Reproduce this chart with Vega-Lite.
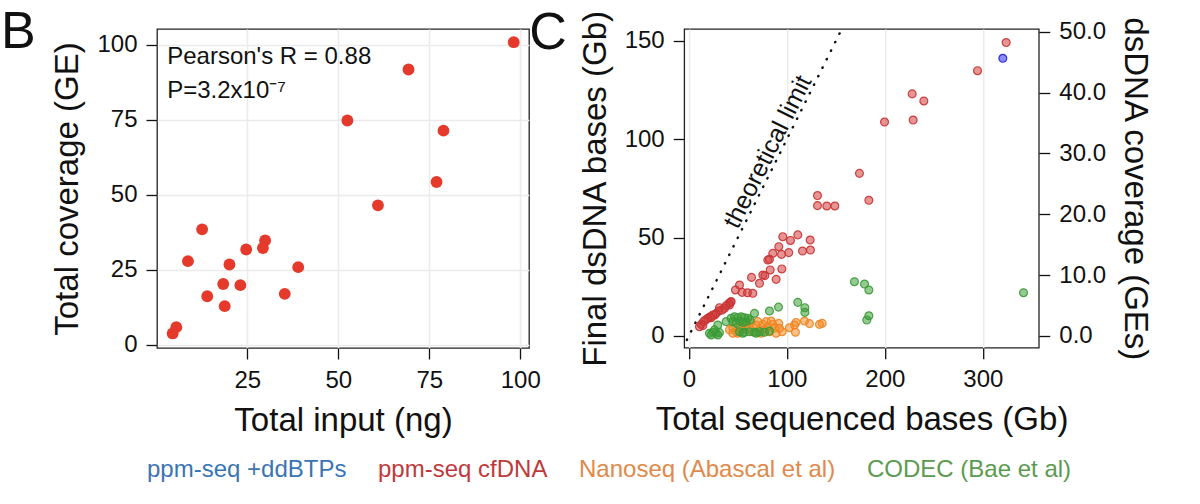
{
  "$schema": "https://vega.github.io/schema/vega-lite/v6.json",
  "background": "white",
  "padding": {"left": 0, "top": 4, "right": 5, "bottom": 5},
  "bounds": "flush",
  "spacing": 155.2,
  "datasets": {
    "input": [
      {"input": 98.2, "coverage": 100.8},
      {"input": 69.3, "coverage": 91.7},
      {"input": 52.5, "coverage": 74.7},
      {"input": 78.9, "coverage": 71.3},
      {"input": 77.0, "coverage": 54.2},
      {"input": 60.9, "coverage": 46.4},
      {"input": 12.6, "coverage": 38.4},
      {"input": 29.9, "coverage": 34.7},
      {"input": 29.3, "coverage": 32.2},
      {"input": 24.7, "coverage": 31.7},
      {"input": 8.7, "coverage": 27.8},
      {"input": 20.1, "coverage": 26.7},
      {"input": 39.0, "coverage": 25.8},
      {"input": 18.4, "coverage": 20.2},
      {"input": 23.1, "coverage": 19.8},
      {"input": 35.3, "coverage": 16.9},
      {"input": 14.0, "coverage": 16.1},
      {"input": 18.8, "coverage": 12.8},
      {"input": 5.5, "coverage": 5.8},
      {"input": 4.5, "coverage": 3.7}
    ],
    "limit": [
      {"total": -2, "final": -2},
      {"total": 155, "final": 155}
    ],
    "seq": [
      {"total": 323.8, "final": 149.2, "method": "ppm-seq cfDNA"},
      {"total": 294.6, "final": 134.9, "method": "ppm-seq cfDNA"},
      {"total": 227.9, "final": 123.1, "method": "ppm-seq cfDNA"},
      {"total": 239.8, "final": 119.5, "method": "ppm-seq cfDNA"},
      {"total": 199.7, "final": 108.8, "method": "ppm-seq cfDNA"},
      {"total": 228.9, "final": 109.8, "method": "ppm-seq cfDNA"},
      {"total": 174.1, "final": 82.7, "method": "ppm-seq cfDNA"},
      {"total": 183.7, "final": 69.0, "method": "ppm-seq cfDNA"},
      {"total": 131.3, "final": 71.4, "method": "ppm-seq cfDNA"},
      {"total": 131.3, "final": 66.3, "method": "ppm-seq cfDNA"},
      {"total": 140.8, "final": 66.1, "method": "ppm-seq cfDNA"},
      {"total": 149.0, "final": 66.1, "method": "ppm-seq cfDNA"},
      {"total": 95.9, "final": 50.5, "method": "ppm-seq cfDNA"},
      {"total": 103.7, "final": 48.6, "method": "ppm-seq cfDNA"},
      {"total": 111.2, "final": 51.4, "method": "ppm-seq cfDNA"},
      {"total": 123.8, "final": 48.8, "method": "ppm-seq cfDNA"},
      {"total": 91.8, "final": 45.4, "method": "ppm-seq cfDNA"},
      {"total": 85.7, "final": 42.0, "method": "ppm-seq cfDNA"},
      {"total": 94.6, "final": 41.5, "method": "ppm-seq cfDNA"},
      {"total": 102.0, "final": 42.4, "method": "ppm-seq cfDNA"},
      {"total": 116.0, "final": 43.2, "method": "ppm-seq cfDNA"},
      {"total": 124.1, "final": 43.7, "method": "ppm-seq cfDNA"},
      {"total": 80.6, "final": 38.6, "method": "ppm-seq cfDNA"},
      {"total": 82.3, "final": 39.0, "method": "ppm-seq cfDNA"},
      {"total": 94.9, "final": 34.1, "method": "ppm-seq cfDNA"},
      {"total": 83.0, "final": 33.6, "method": "ppm-seq cfDNA"},
      {"total": 75.5, "final": 31.0, "method": "ppm-seq cfDNA"},
      {"total": 77.6, "final": 30.7, "method": "ppm-seq cfDNA"},
      {"total": 89.1, "final": 28.8, "method": "ppm-seq cfDNA"},
      {"total": 64.0, "final": 29.8, "method": "ppm-seq cfDNA"},
      {"total": 72.1, "final": 26.8, "method": "ppm-seq cfDNA"},
      {"total": 51.7, "final": 25.9, "method": "ppm-seq cfDNA"},
      {"total": 47.6, "final": 23.4, "method": "ppm-seq cfDNA"},
      {"total": 54.4, "final": 22.2, "method": "ppm-seq cfDNA"},
      {"total": 59.9, "final": 22.0, "method": "ppm-seq cfDNA"},
      {"total": 65.3, "final": 21.7, "method": "ppm-seq cfDNA"},
      {"total": 43.2, "final": 17.5, "method": "ppm-seq cfDNA"},
      {"total": 42.6, "final": 17.1, "method": "ppm-seq cfDNA"},
      {"total": 40.8, "final": 16.6, "method": "ppm-seq cfDNA"},
      {"total": 41.5, "final": 15.8, "method": "ppm-seq cfDNA"},
      {"total": 38.1, "final": 15.4, "method": "ppm-seq cfDNA"},
      {"total": 36.4, "final": 14.1, "method": "ppm-seq cfDNA"},
      {"total": 31.3, "final": 14.4, "method": "ppm-seq cfDNA"},
      {"total": 34.0, "final": 13.2, "method": "ppm-seq cfDNA"},
      {"total": 30.6, "final": 12.7, "method": "ppm-seq cfDNA"},
      {"total": 27.9, "final": 11.5, "method": "ppm-seq cfDNA"},
      {"total": 26.5, "final": 10.7, "method": "ppm-seq cfDNA"},
      {"total": 24.5, "final": 10.7, "method": "ppm-seq cfDNA"},
      {"total": 21.8, "final": 9.8, "method": "ppm-seq cfDNA"},
      {"total": 22.8, "final": 9.3, "method": "ppm-seq cfDNA"},
      {"total": 19.4, "final": 9.0, "method": "ppm-seq cfDNA"},
      {"total": 17.0, "final": 8.1, "method": "ppm-seq cfDNA"},
      {"total": 15.0, "final": 7.3, "method": "ppm-seq cfDNA"},
      {"total": 12.6, "final": 5.9, "method": "ppm-seq cfDNA"},
      {"total": 14.3, "final": 5.3, "method": "ppm-seq cfDNA"},
      {"total": 10.9, "final": 4.7, "method": "ppm-seq cfDNA"},
      {"total": 136.1, "final": 6.4, "method": "Nanoseq (Abascal et al)"},
      {"total": 133.3, "final": 5.9, "method": "Nanoseq (Abascal et al)"},
      {"total": 123.1, "final": 6.3, "method": "Nanoseq (Abascal et al)"},
      {"total": 118.0, "final": 7.6, "method": "Nanoseq (Abascal et al)"},
      {"total": 109.5, "final": 6.9, "method": "Nanoseq (Abascal et al)"},
      {"total": 107.8, "final": 5.6, "method": "Nanoseq (Abascal et al)"},
      {"total": 102.7, "final": 4.2, "method": "Nanoseq (Abascal et al)"},
      {"total": 108.8, "final": 1.9, "method": "Nanoseq (Abascal et al)"},
      {"total": 95.2, "final": 2.2, "method": "Nanoseq (Abascal et al)"},
      {"total": 91.8, "final": 6.4, "method": "Nanoseq (Abascal et al)"},
      {"total": 41.5, "final": 3.1, "method": "Nanoseq (Abascal et al)"},
      {"total": 44.9, "final": 4.2, "method": "Nanoseq (Abascal et al)"},
      {"total": 48.3, "final": 2.2, "method": "Nanoseq (Abascal et al)"},
      {"total": 51.7, "final": 4.7, "method": "Nanoseq (Abascal et al)"},
      {"total": 55.1, "final": 3.1, "method": "Nanoseq (Abascal et al)"},
      {"total": 58.5, "final": 5.3, "method": "Nanoseq (Abascal et al)"},
      {"total": 61.9, "final": 3.9, "method": "Nanoseq (Abascal et al)"},
      {"total": 65.3, "final": 2.2, "method": "Nanoseq (Abascal et al)"},
      {"total": 68.7, "final": 5.6, "method": "Nanoseq (Abascal et al)"},
      {"total": 72.1, "final": 3.6, "method": "Nanoseq (Abascal et al)"},
      {"total": 75.5, "final": 5.9, "method": "Nanoseq (Abascal et al)"},
      {"total": 77.2, "final": 3.1, "method": "Nanoseq (Abascal et al)"},
      {"total": 80.6, "final": 4.7, "method": "Nanoseq (Abascal et al)"},
      {"total": 82.3, "final": 2.2, "method": "Nanoseq (Abascal et al)"},
      {"total": 85.7, "final": 5.9, "method": "Nanoseq (Abascal et al)"},
      {"total": 87.4, "final": 3.9, "method": "Nanoseq (Abascal et al)"},
      {"total": 89.1, "final": 1.4, "method": "Nanoseq (Abascal et al)"},
      {"total": 73.8, "final": 1.4, "method": "Nanoseq (Abascal et al)"},
      {"total": 50.0, "final": 1.4, "method": "Nanoseq (Abascal et al)"},
      {"total": 44.9, "final": 1.4, "method": "Nanoseq (Abascal et al)"},
      {"total": 56.8, "final": 6.4, "method": "Nanoseq (Abascal et al)"},
      {"total": 63.6, "final": 6.9, "method": "Nanoseq (Abascal et al)"},
      {"total": 70.4, "final": 7.3, "method": "Nanoseq (Abascal et al)"},
      {"total": 78.9, "final": 7.3, "method": "Nanoseq (Abascal et al)"},
      {"total": 84.0, "final": 7.6, "method": "Nanoseq (Abascal et al)"},
      {"total": 92.5, "final": 3.9, "method": "Nanoseq (Abascal et al)"},
      {"total": 341.5, "final": 22.0, "method": "CODEC (Bae et al)"},
      {"total": 169.0, "final": 27.6, "method": "CODEC (Bae et al)"},
      {"total": 179.3, "final": 26.4, "method": "CODEC (Bae et al)"},
      {"total": 183.7, "final": 23.4, "method": "CODEC (Bae et al)"},
      {"total": 183.7, "final": 10.3, "method": "CODEC (Bae et al)"},
      {"total": 181.6, "final": 8.1, "method": "CODEC (Bae et al)"},
      {"total": 111.2, "final": 17.1, "method": "CODEC (Bae et al)"},
      {"total": 118.4, "final": 14.4, "method": "CODEC (Bae et al)"},
      {"total": 118.4, "final": 12.0, "method": "CODEC (Bae et al)"},
      {"total": 91.5, "final": 14.7, "method": "CODEC (Bae et al)"},
      {"total": 82.3, "final": 12.7, "method": "CODEC (Bae et al)"},
      {"total": 67.0, "final": 11.5, "method": "CODEC (Bae et al)"},
      {"total": 29.6, "final": 5.6, "method": "CODEC (Bae et al)"},
      {"total": 38.1, "final": 7.3, "method": "CODEC (Bae et al)"},
      {"total": 43.2, "final": 9.0, "method": "CODEC (Bae et al)"},
      {"total": 46.6, "final": 9.8, "method": "CODEC (Bae et al)"},
      {"total": 50.0, "final": 9.3, "method": "CODEC (Bae et al)"},
      {"total": 53.4, "final": 9.8, "method": "CODEC (Bae et al)"},
      {"total": 56.8, "final": 9.3, "method": "CODEC (Bae et al)"},
      {"total": 60.2, "final": 9.0, "method": "CODEC (Bae et al)"},
      {"total": 62.6, "final": 8.1, "method": "CODEC (Bae et al)"},
      {"total": 44.9, "final": 7.3, "method": "CODEC (Bae et al)"},
      {"total": 51.7, "final": 7.6, "method": "CODEC (Bae et al)"},
      {"total": 58.5, "final": 7.3, "method": "CODEC (Bae et al)"},
      {"total": 48.3, "final": 6.4, "method": "CODEC (Bae et al)"},
      {"total": 55.1, "final": 6.9, "method": "CODEC (Bae et al)"},
      {"total": 21.1, "final": 1.4, "method": "CODEC (Bae et al)"},
      {"total": 24.5, "final": 1.9, "method": "CODEC (Bae et al)"},
      {"total": 27.9, "final": 1.4, "method": "CODEC (Bae et al)"},
      {"total": 31.3, "final": 1.7, "method": "CODEC (Bae et al)"},
      {"total": 22.8, "final": 0.5, "method": "CODEC (Bae et al)"},
      {"total": 29.6, "final": 0.5, "method": "CODEC (Bae et al)"},
      {"total": 26.2, "final": 3.1, "method": "CODEC (Bae et al)"},
      {"total": 51.7, "final": 2.2, "method": "CODEC (Bae et al)"},
      {"total": 56.8, "final": 1.9, "method": "CODEC (Bae et al)"},
      {"total": 61.9, "final": 2.2, "method": "CODEC (Bae et al)"},
      {"total": 67.0, "final": 1.9, "method": "CODEC (Bae et al)"},
      {"total": 72.1, "final": 2.2, "method": "CODEC (Bae et al)"},
      {"total": 77.2, "final": 1.9, "method": "CODEC (Bae et al)"},
      {"total": 82.3, "final": 2.5, "method": "CODEC (Bae et al)"},
      {"total": 55.1, "final": 1.4, "method": "CODEC (Bae et al)"},
      {"total": 68.7, "final": 1.4, "method": "CODEC (Bae et al)"},
      {"total": 320.4, "final": 141.2, "method": "ppm-seq +ddBTPs"}
    ]
  },
  "hconcat": [
    {
      "width": 372,
      "height": 319,
      "title": {
        "text": "B",
        "fontSize": 52,
        "fontWeight": "normal",
        "anchor": "start",
        "frame": "group",
        "offset": 0,
        "baseline": "alphabetic",
        "dx": -156,
        "dy": 70.5,
        "color": "#111"
      },
      "layer": [
        {
          "data": {"name": "input"},
          "mark": {"type": "circle", "size": 140, "color": "#e53a2b", "opacity": 1},
          "encoding": {
            "x": {
              "field": "input",
              "type": "quantitative",
              "title": "Total input (ng)",
              "scale": {"domain": [0.2, 102.4], "nice": false, "zero": false},
              "axis": {"values": [25, 50, 75, 100]}
            },
            "y": {
              "field": "coverage",
              "type": "quantitative",
              "title": "Total coverage (GE)",
              "scale": {"domain": [-1.15, 105.2], "nice": false, "zero": false},
              "axis": {"values": [0, 25, 50, 75, 100]}
            }
          }
        },
        {
          "data": {"values": [{}]},
          "mark": {
            "type": "text",
            "text": ["Pearson's R = 0.88", "P=3.2x10⁻⁷"],
            "align": "left",
            "baseline": "alphabetic",
            "fontSize": 24,
            "lineHeight": 34,
            "color": "#111"
          },
          "encoding": {
            "x": {"datum": 3.0, "type": "quantitative", "scale": {"domain": [0.2, 102.4], "nice": false, "zero": false}},
            "y": {"datum": 93.5, "type": "quantitative", "scale": {"domain": [-1.15, 105.2], "nice": false, "zero": false}}
          }
        }
      ]
    },
    {
      "width": 354.6,
      "height": 318.7,
      "title": {
        "text": "C",
        "fontSize": 52,
        "fontWeight": "normal",
        "anchor": "start",
        "frame": "group",
        "offset": 0,
        "baseline": "alphabetic",
        "dx": -155,
        "dy": 91.5,
        "color": "#111"
      },
      "layer": [
        {
          "data": {"name": "limit"},
          "mark": {
            "type": "line",
            "color": "#111",
            "strokeWidth": 2.4,
            "strokeDash": [0.5, 9],
            "strokeCap": "round",
            "clip": true
          },
          "encoding": {
            "x": {
              "field": "total",
              "type": "quantitative",
              "title": "Total sequenced bases (Gb)",
              "scale": {"domain": [-4.7, 357.1], "nice": false, "zero": false},
              "axis": {"values": [0, 100, 200, 300]}
            },
            "y": {
              "field": "final",
              "type": "quantitative",
              "title": "dsDNA coverage (GEs)",
              "scale": {"domain": [-5.95, 156.1], "nice": false, "zero": false},
              "axis": {
                "orient": "right",
                "grid": false,
                "values": [0, 30.94, 61.88, 92.82, 123.76, 154.7],
                "labelExpr": "format(datum.value / 3.094, '.1f')"
              }
            }
          }
        },
        {
          "data": {"values": [{}]},
          "mark": {
            "type": "text",
            "text": "theoretical limit",
            "angle": -63.5,
            "align": "center",
            "baseline": "middle",
            "fontSize": 25,
            "color": "#111"
          },
          "encoding": {
            "x": {"datum": 80.6, "type": "quantitative", "scale": {"domain": [-4.7, 357.1], "nice": false, "zero": false}},
            "y": {"datum": 93.7, "type": "quantitative", "scale": {"domain": [-5.95, 156.1], "nice": false, "zero": false}, "axis": null}
          }
        },
        {
          "data": {"name": "seq"},
          "mark": {"type": "circle", "size": 62, "fillOpacity": 0.55, "strokeOpacity": 0.9, "strokeWidth": 1.2},
          "encoding": {
            "x": {
              "field": "total",
              "type": "quantitative",
              "title": "Total sequenced bases (Gb)",
              "scale": {"domain": [-4.7, 357.1], "nice": false, "zero": false},
              "axis": {"values": [0, 100, 200, 300]}
            },
            "y": {
              "field": "final",
              "type": "quantitative",
              "title": "Final dsDNA bases (Gb)",
              "scale": {"domain": [-5.95, 156.1], "nice": false, "zero": false},
              "axis": {"values": [0, 50, 100, 150]}
            },
            "fill": {
              "field": "method",
              "type": "nominal",
              "scale": {
                "domain": ["ppm-seq +ddBTPs", "ppm-seq cfDNA", "Nanoseq (Abascal et al)", "CODEC (Bae et al)"],
                "range": ["#2b2bff", "#d43d3d", "#f08c28", "#3f9f3a"]
              },
              "legend": {
                "title": null,
                "orient": "none",
                "legendX": -34,
                "legendY": 429,
                "direction": "horizontal",
                "columns": 4,
                "symbolSize": 0,
                "symbolOpacity": 0,
                "symbolStrokeWidth": 0,
                "labelFontSize": 24,
                "labelLimit": 0,
                "labelOffset": 0,
                "columnPadding": 7,
                "padding": 0,
                "encode": {
                  "labels": {
                    "update": {
                      "fill": {"signal": "datum.value === 'ppm-seq +ddBTPs' ? '#3a74b4' : datum.value === 'ppm-seq cfDNA' ? '#c0393a' : datum.value === 'Nanoseq (Abascal et al)' ? '#e0894a' : '#5b9b50'"}
                    }
                  }
                }
              }
            },
            "stroke": {
              "field": "method",
              "type": "nominal",
              "scale": {
                "domain": ["ppm-seq +ddBTPs", "ppm-seq cfDNA", "Nanoseq (Abascal et al)", "CODEC (Bae et al)"],
                "range": ["#2222d6", "#c83232", "#ee8420", "#3a9a35"]
              },
              "legend": null
            }
          }
        }
      ],
      "resolve": {"axis": {"y": "independent"}}
    }
  ],
  "config": {
    "font": "Liberation Sans",
    "view": {"stroke": "#222", "strokeWidth": 1.3},
    "axis": {
      "domain": false,
      "grid": true,
      "gridColor": "#ebebeb",
      "gridWidth": 1.5,
      "tickSize": 11,
      "tickWidth": 1.3,
      "tickColor": "#111",
      "labelFontSize": 24,
      "labelColor": "#111",
      "labelPadding": 9,
      "titleFontSize": 33,
      "titleFontWeight": "normal",
      "titleColor": "#111",
      "titlePadding": 12
    }
  }
}
